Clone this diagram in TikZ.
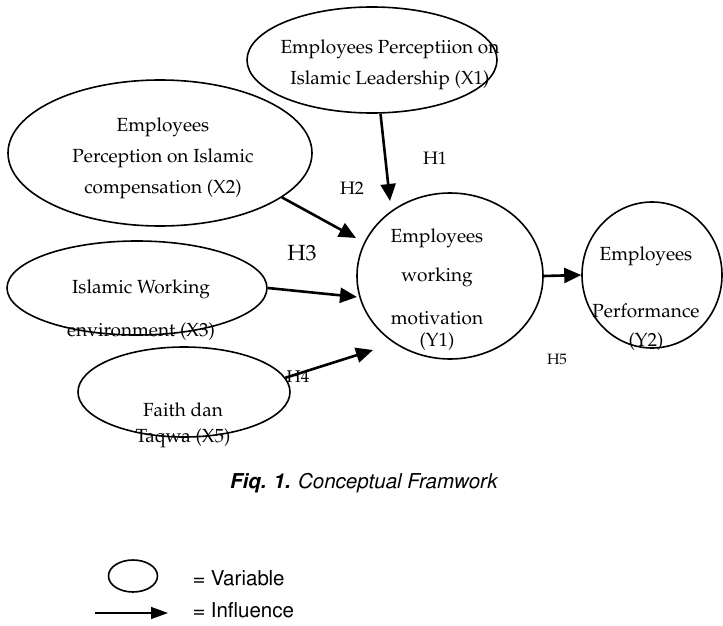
\documentclass[tikz,border=0pt]{standalone}
\usepackage[T1]{fontenc}
\usepackage{mathpazo}
\usepackage{helvet}
\usetikzlibrary{arrows.meta,
                shapes.geometric}

\begin{document}
\begin{tikzpicture}[x=1pt, y=-1pt,
    var/.style={draw, ellipse, line width=1.6pt, inner sep=0pt},
    txt/.style={font=\fontsize{19}{31}\selectfont, align=center},
    hyp/.style={font=\fontsize{18}{20}\selectfont},
    infl/.style={-{Triangle[length=17pt,width=15pt]}, line width=2.6pt},
    sans/.style={font=\sffamily\fontsize{20.5}{22}\selectfont, inner sep=0pt}]
        \useasboundingbox (0,0) rectangle (723,626);
        % variables
        \node[var, minimum width=250pt, minimum height=106pt] (x1) at (372,60) {};
        \node[var, minimum width=304pt, minimum height=146pt] (x2) at (160,153) {};
        \node[var, minimum width=260pt, minimum height=94pt] (x3) at (137,288) {};
        \node[var, minimum width=212pt, minimum height=90pt] (x5) at (184,392) {};
        \node[var, minimum width=186pt, minimum height=166pt] (y1) at (450,276) {};
        \node[var, minimum width=140pt, minimum height=146pt] (y2) at (652,275) {};
        \node[txt] (x1t) at (390,65) {Employees Perceptiion on\\Islamic Leadership (X1)};
        \node[txt] (x2t) at (163,158) {Employees\\Perception on Islamic\\compensation (X2)};
        \node[txt] (x3t) at (141,310) {Islamic Working\\[12pt]environment (X3)};
        \node[txt] (x5t) at (183,425) {Faith dan\\[-5pt]Taqwa (X5)};
        \node[txt] (y1t) at (437,290) {Employees\\[8pt]working\\[12pt]motivation\\[-9pt](Y1)};
        \node[txt] (y2t) at (646,299) {Employees\\[26pt]Performance\\[-2pt](Y2)};
        % hypotheses
        \node[hyp] (h1) at (435,158) {H1};
        \node[hyp] (h2) at (352,188) {H2};
        \node[hyp, font=\fontsize{22}{24}\selectfont] (h3) at (302,253) {H3};
        \node[hyp, font=\fontsize{17}{19}\selectfont] (h4) at (298,377) {H4};
        \node[hyp, font=\fontsize{15}{17}\selectfont] (h5) at (557,359) {H5};
        \coordinate (a1) at (390,201);
        \coordinate (a2) at (356,238);
        \coordinate (a3) at (357,297);
        \coordinate (a4) at (373,350);
        \draw[infl] (x1.-81) -- (a1);
        \draw[infl] (x2.-20) -- (a2);
        \draw[infl] (x3.east) -- (a3);
        \draw[infl] (x5.8) -- (a4);
        \draw[infl] (y1.east) -- (y2.west);
        % caption and legend
        \node[sans, font=\sffamily\itshape\fontsize{20.5}{22}\selectfont] (cap) at (363,483) {\textbf{Fiq. 1.} Conceptual Framwork};
        \node[var, line width=1.6pt, minimum width=49pt, minimum height=32pt] (lvar) at (133,576) {};
        \node[sans, anchor=west] (lvart) at (193,578) {= Variable};
        \coordinate (la) at (95,613);
        \coordinate (lb) at (168,613);
        \draw[-{Triangle[length=17pt,width=12pt]}, line width=1.4pt] (la) -- (lb);
        \node[sans, anchor=west] (linfl) at (193,610) {= Influence};
\end{tikzpicture}
\end{document}
